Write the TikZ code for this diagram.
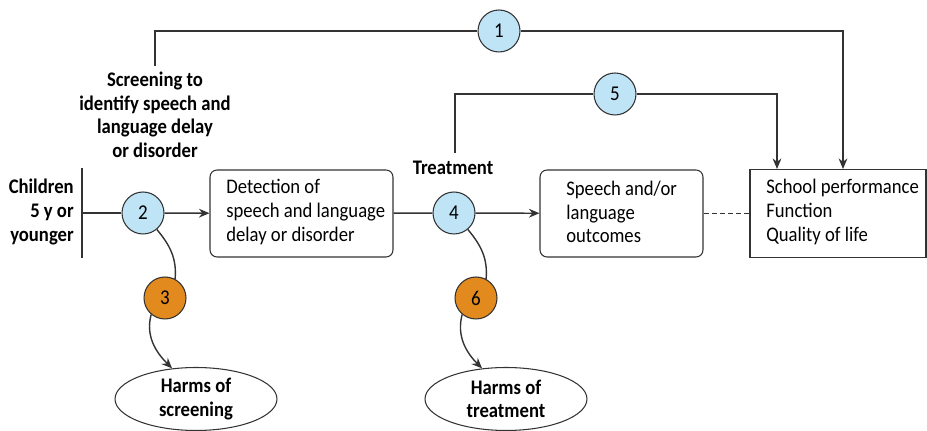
\documentclass[tikz,border=0pt]{standalone}
\usepackage{fontspec}
\setmainfont[FakeStretch=0.9]{Carlito}
\usetikzlibrary{shapes.geometric, arrows.meta, positioning}

\definecolor{kqblue}{HTML}{BEE4F6}
\definecolor{kqorange}{HTML}{E38A1E}
\definecolor{lineclr}{HTML}{333333}

\begin{document}
\begin{tikzpicture}[x=0.02cm, y=-0.02cm, >={Stealth[length=6pt, width=5pt]},
    conn/.style={draw=lineclr, line width=0.8pt},
    kq node/.style={circle, draw=lineclr, line width=0.6pt, fill=kqblue, minimum size=0.84cm, inner sep=0pt, font=\fontsize{12}{14}\selectfont},
    harm node/.style={kq node, fill=kqorange},
    box text/.style={anchor=west, align=left, inner sep=0pt, font=\fontsize{11.8}{13.4}\selectfont},
    harm ell/.style={ellipse, draw=lineclr, line width=0.6pt, align=center, inner sep=0pt, minimum width=3.24cm, minimum height=1.26cm, font=\fontsize{11.8}{13.4}\selectfont\bfseries},
    label text/.style={align=center, inner sep=0pt, font=\fontsize{11.8}{13.4}\selectfont\bfseries}]
    \useasboundingbox (0,0) rectangle (927,431);

    % population and boxes
    \node[label text, align=right, anchor=east] (kids) at (74,212) {Children\\5 y or\\younger};
    \node[draw=lineclr, line width=0.6pt, rounded corners=4pt, minimum width=3.66cm, minimum height=1.74cm] (detect) at (301.5,213.5) {};
    \node[box text] (detecttxt) at (226,212) {Detection of\\speech and language\\delay or disorder};
    \node[draw=lineclr, line width=0.6pt, rounded corners=4pt, minimum width=3.26cm, minimum height=1.74cm] (speech) at (621.5,213.5) {};
    \node[box text] (speechtxt) at (566,212) {Speech and/or\\language\\outcomes};
    \node[draw=lineclr, line width=0.6pt, minimum width=3.52cm, minimum height=1.76cm] (school) at (838,213.5) {};
    \node[box text] (schooltxt) at (766,212) {School performance\\Function\\Quality of life};

    % labels
    \node[label text] (scr) at (155,115) {Screening to\\identify speech and\\language delay\\or disorder};
    \node[label text] (treat) at (453,168) {Treatment};

    % key questions
    \node[kq node] (c1) at (499,31) {1};
    \node[kq node] (c2) at (143,213) {2};
    \node[harm node] (c3) at (165,298) {3};
    \node[kq node] (c4) at (454,213) {4};
    \node[kq node] (c5) at (615,94) {5};
    \node[harm node] (c6) at (476,298) {6};

    % harms
    \node[harm ell] (hscr) at (196,399) {Harms of\\screening};
    \node[harm ell] (htrt) at (506,399) {Harms of\\treatment};

    \coordinate (s1) at (843,169);
    \coordinate (s5) at (777,169);
    \coordinate (ktop) at (82,168);
    \coordinate (kbot) at (82,258);
    \coordinate (kmid) at (82,213);
    \coordinate (scrtop) at (155,66);
    \coordinate (trttop) at (455,153);

    \draw[conn] (ktop) -- (kbot);
    \draw[conn] (kmid) -- (c2);
    \draw[conn, ->] (c2) -- (detect);
    \draw[conn] (detect) -- (c4);
    \draw[conn, ->] (c4) -- (speech);
    \draw[conn, dash pattern=on 3pt off 1.6pt] (speech) -- (school);

    \draw[conn] (scrtop) |- (c1);
    \draw[conn, ->] (c1) -| (s1);
    \draw[conn] (trttop) |- (c5);
    \draw[conn, ->] (c5) -| (s5);

    \draw[conn] (c2.-50) to[out=-50, in=85] (c3.62);
    \draw[conn, ->] (c3.-130) to[out=-105, in=135] (hscr.128);
    \draw[conn] (c4.-50) to[out=-50, in=85] (c6.62);
    \draw[conn, ->] (c6.-130) to[out=-105, in=135] (htrt.128);
\end{tikzpicture}
\end{document}
